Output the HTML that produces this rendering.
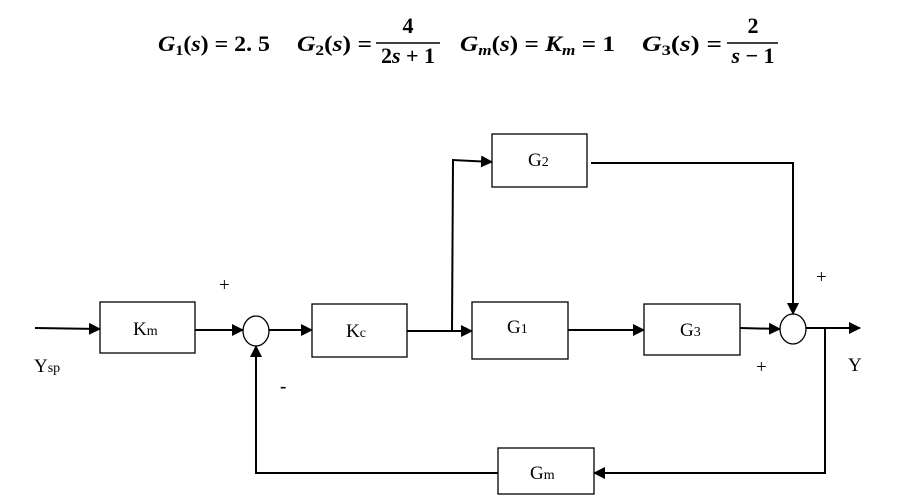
<!DOCTYPE html>
<html><head><style>
body{margin:0;background:#fff;width:905px;height:502px;overflow:hidden}
svg{display:block}
.t{font-family:"Liberation Serif",serif;font-size:19px;fill:#000}
.e{font-family:"Liberation Serif",serif;font-size:22px;font-weight:bold;fill:#000}
.ei{font-style:italic}
</style></head><body>
<svg width="905" height="502" viewBox="0 0 905 502">
<defs><marker id="a" markerWidth="12" markerHeight="12" refX="11" refY="6" orient="auto" markerUnits="userSpaceOnUse"><path d="M0,0 L12,6 L0,12 z" fill="#000"/></marker></defs>
<text class="e" y="51" x="158" textLength="112" lengthAdjust="spacingAndGlyphs"><tspan class="ei">G</tspan><tspan font-size="15" dy="4">1</tspan><tspan dy="-4">(</tspan><tspan class="ei">s</tspan><tspan>) = 2. 5</tspan></text>
<text class="e" y="51" x="297" textLength="75" lengthAdjust="spacingAndGlyphs"><tspan class="ei">G</tspan><tspan font-size="15" dy="4">2</tspan><tspan dy="-4">(</tspan><tspan class="ei">s</tspan><tspan>) =</tspan></text>
<text class="e" x="408" y="33" text-anchor="middle">4</text>
<line x1="376" y1="43" x2="440" y2="43" stroke="#000" stroke-width="1.5"/>
<text class="e" x="408" y="63" text-anchor="middle">2<tspan class="ei">s</tspan> + 1</text>
<text class="e" y="51" x="460" textLength="155" lengthAdjust="spacingAndGlyphs"><tspan class="ei">G</tspan><tspan font-size="15" dy="4" class="ei">m</tspan><tspan dy="-4">(</tspan><tspan class="ei">s</tspan><tspan>) = </tspan><tspan class="ei">K</tspan><tspan font-size="15" dy="4" class="ei">m</tspan><tspan dy="-4"> = 1</tspan></text>
<text class="e" y="51" x="642" textLength="80" lengthAdjust="spacingAndGlyphs"><tspan class="ei">G</tspan><tspan font-size="15" dy="4">3</tspan><tspan dy="-4">(</tspan><tspan class="ei">s</tspan><tspan>) =</tspan></text>
<text class="e" x="753" y="33" text-anchor="middle">2</text>
<line x1="727" y1="43" x2="778" y2="43" stroke="#000" stroke-width="1.5"/>
<text class="e" x="753" y="63" text-anchor="middle"><tspan class="ei">s</tspan> − 1</text>
<g fill="none" stroke="#000" stroke-width="1.3">
<rect x="100" y="302" width="95" height="51"/>
<rect x="312" y="304" width="95" height="53"/>
<rect x="472" y="302" width="96" height="57"/>
<rect x="644" y="304" width="96" height="51"/>
<rect x="492" y="134" width="95" height="53"/>
<rect x="498" y="448" width="96" height="46"/>
<ellipse cx="256" cy="331" rx="13" ry="15"/>
<ellipse cx="793" cy="329" rx="13" ry="15"/>
</g>
<g fill="none" stroke="#000" stroke-width="2">
<line x1="35" y1="328" x2="100" y2="329" marker-end="url(#a)"/>
<line x1="195" y1="330" x2="243" y2="330" marker-end="url(#a)"/>
<line x1="269" y1="330" x2="312" y2="330" marker-end="url(#a)"/>
<line x1="407" y1="331" x2="472" y2="331" marker-end="url(#a)"/>
<polyline points="452,331 453,160 492,162" marker-end="url(#a)"/>
<line x1="568" y1="330" x2="644" y2="330" marker-end="url(#a)"/>
<line x1="740" y1="328" x2="780" y2="329" marker-end="url(#a)"/>
<polyline points="591,163 793,163 793,314" marker-end="url(#a)"/>
<line x1="806" y1="328" x2="860" y2="328" marker-end="url(#a)"/>
<polyline points="825,327 825,473 594,473" marker-end="url(#a)"/>
<polyline points="498,473 256,473 256,346" marker-end="url(#a)"/>
</g>
<text class="t" x="133" y="335">K<tspan font-size="14">m</tspan></text>
<text class="t" x="346" y="337">K<tspan font-size="14">c</tspan></text>
<text class="t" x="507" y="333">G<tspan font-size="14">1</tspan></text>
<text class="t" x="680" y="336">G<tspan font-size="14">3</tspan></text>
<text class="t" x="528" y="166">G<tspan font-size="14">2</tspan></text>
<text class="t" x="530" y="479">G<tspan font-size="14">m</tspan></text>
<text class="t" x="34" y="372" font-size="21">Y<tspan font-size="14">sp</tspan></text>
<text class="t" x="848" y="371" font-size="21">Y</text>
<text class="t" x="219" y="291">+</text>
<text class="t" x="280" y="392" font-weight="bold">-</text>
<text class="t" x="816" y="283">+</text>
<text class="t" x="756" y="373">+</text>
</svg>
</body></html>
